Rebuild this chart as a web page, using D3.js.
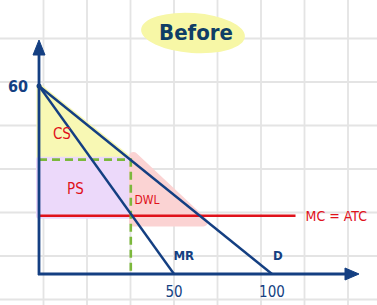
<!DOCTYPE html>
<html>
<head>
<meta charset="utf-8">
<script src="https://cdn.jsdelivr.net/npm/d3@7"></script>
<style>
  html, body { margin: 0; padding: 0; background: #fff; }
  svg { display: block; }
  text { font-family: "DejaVu Sans Condensed", "Liberation Sans Narrow", sans-serif; }
</style>
</head>
<body>
<svg id="chart"></svg>
<script>
// monopoly "before" picture
const title = "Before";
const priceTicks = [60];
const qtyTicks = [50, 100];
const demand = [[0, 60], [100, 0]];
const marginalRevenue = [[0, 60], [50, 0]];
const mcLevel = 18.6;          // MC = ATC
const mcEnd = 112;             // how far right the MC line runs
const qMonopoly = 34;
const pMonopoly = 36.5;
const qCompetitive = 63;       // where D crosses MC
const curveLabels = [
  { text: "MR", q: 55, p: 4.5 },
  { text: "D", q: 103, p: 4.5 }
];
const areaLabels = [
  { text: "CS", q: 8.5, p: 43 },
  { text: "PS", q: 13.5, p: 25.5 },
  { text: "DWL", q: 40, p: 22.5 }
];

const width = 377, height = 305;
const svg = d3.select("#chart").attr("width", width).attr("height", height);

// hand drawn axis is not evenly spaced, so use a polylinear scale
const x = d3.scaleLinear().domain([0, 50, 100]).range([39, 174, 272]);
const y = d3.scaleLinear().domain([0, 60]).range([274, 86]);

const navy = "#143f82";
const red = "#e0121b";

// notebook grid
const grid = svg.append("g").attr("stroke", "#e4e4e4").attr("stroke-width", 1.8);
grid.selectAll("line.v")
  .data(d3.range(0, width, 43.5))
  .join("line")
  .attr("x1", d => d + 43.5).attr("x2", d => d + 43.5)
  .attr("y1", 0).attr("y2", height);
grid.selectAll("line.h")
  .data(d3.range(0, height, 43.5))
  .join("line")
  .attr("y1", d => d + 38.5).attr("y2", d => d + 38.5)
  .attr("x1", 0).attr("x2", width);

// title with highlighter blob
svg.append("ellipse")
  .attr("cx", 193).attr("cy", 33).attr("rx", 52).attr("ry", 20)
  .attr("fill", "#f7f7a6")
  .attr("transform", "rotate(4,193,33)");
svg.append("text")
  .attr("x", 196).attr("y", 40)
  .attr("text-anchor", "middle")
  .attr("font-size", 22)
  .attr("font-weight", "bold")
  .attr("fill", "#0f3e66")
  .text(title);

const pts = arr => arr.map(d => [x(d[0]), y(d[1])].join(",")).join(" ");

// shaded areas
const shade = svg.append("g").attr("stroke-linejoin", "round");
shade.append("polygon")
  .attr("points", pts([[0, 60], [qMonopoly, pMonopoly], [0, pMonopoly]]))
  .attr("fill", "#f8f8b4").attr("stroke", "#f8f8b4").attr("stroke-width", 5);
shade.append("polygon")
  .attr("points", pts([[0, pMonopoly], [qMonopoly, pMonopoly], [qMonopoly, mcLevel], [0, mcLevel]]))
  .attr("fill", "#ecd9fa").attr("stroke", "#ecd9fa").attr("stroke-width", 6);
shade.append("polygon")
  .attr("points", pts([[qMonopoly + 1, pMonopoly + 1], [qCompetitive + 2, mcLevel - 2], [qMonopoly + 1, mcLevel - 2]]))
  .attr("fill", "#fbd3d3").attr("stroke", "#fbd3d3").attr("stroke-width", 9);

// MC = ATC
svg.append("line")
  .attr("x1", x(0)).attr("x2", x(mcEnd))
  .attr("y1", y(mcLevel)).attr("y2", y(mcLevel))
  .attr("stroke", red).attr("stroke-width", 2.6);
svg.append("text")
  .attr("x", x(mcEnd) + 10).attr("y", y(mcLevel) + 5)
  .attr("font-size", 14).attr("fill", red)
  .text("MC = ATC");

// dashed monopoly price / quantity
const line = d3.line().x(d => x(d[0])).y(d => y(d[1]));
svg.append("path")
  .attr("d", line([[0, pMonopoly], [qMonopoly, pMonopoly], [qMonopoly, 0]]))
  .attr("fill", "none")
  .attr("stroke", "#7cb83c").attr("stroke-width", 2.6)
  .attr("stroke-dasharray", "8,5");

// demand and MR
[demand, marginalRevenue].forEach(c => {
  svg.append("path")
    .attr("d", line(c))
    .attr("fill", "none")
    .attr("stroke", navy).attr("stroke-width", 2.4);
});

// axes with arrow heads
svg.append("line")
  .attr("x1", x(0)).attr("x2", x(0)).attr("y1", y(0) + 1).attr("y2", 52)
  .attr("stroke", navy).attr("stroke-width", 2.8);
svg.append("line")
  .attr("x1", x(0) - 1).attr("x2", 350).attr("y1", y(0)).attr("y2", y(0))
  .attr("stroke", navy).attr("stroke-width", 2.8);
svg.append("path")
  .attr("d", `M${x(0)},40 L${x(0) + 6},55 L${x(0) - 6},55 Z`)
  .attr("fill", navy).attr("stroke", navy).attr("stroke-linejoin", "round");
svg.append("path")
  .attr("d", `M359,${y(0)} L345,${y(0) - 6} L345,${y(0) + 6} Z`)
  .attr("fill", navy).attr("stroke", navy).attr("stroke-linejoin", "round");
svg.append("circle").attr("cx", x(0)).attr("cy", y(60)).attr("r", 2.5).attr("fill", navy);

// tick labels
svg.selectAll("text.py")
  .data(priceTicks)
  .join("text")
  .attr("x", 18).attr("y", d => y(d) + 6)
  .attr("text-anchor", "middle")
  .attr("font-size", 16).attr("font-weight", "bold")
  .attr("fill", navy)
  .text(d => d);
svg.selectAll("text.qx")
  .data(qtyTicks)
  .join("text")
  .attr("x", d => x(d)).attr("y", 297)
  .attr("text-anchor", "middle")
  .attr("font-size", 15)
  .attr("fill", navy)
  .text(d => d);

svg.selectAll("text.curve")
  .data(curveLabels)
  .join("text")
  .attr("x", d => x(d.q)).attr("y", d => y(d.p))
  .attr("text-anchor", "middle")
  .attr("font-size", 13).attr("font-weight", "bold")
  .attr("fill", navy)
  .text(d => d.text);

svg.selectAll("text.area")
  .data(areaLabels)
  .join("text")
  .attr("x", d => x(d.q)).attr("y", d => y(d.p))
  .attr("text-anchor", "middle")
  .attr("font-size", d => d.text === "DWL" ? 12 : 15)
  .attr("fill", red)
  .text(d => d.text);
</script>
</body>
</html>
